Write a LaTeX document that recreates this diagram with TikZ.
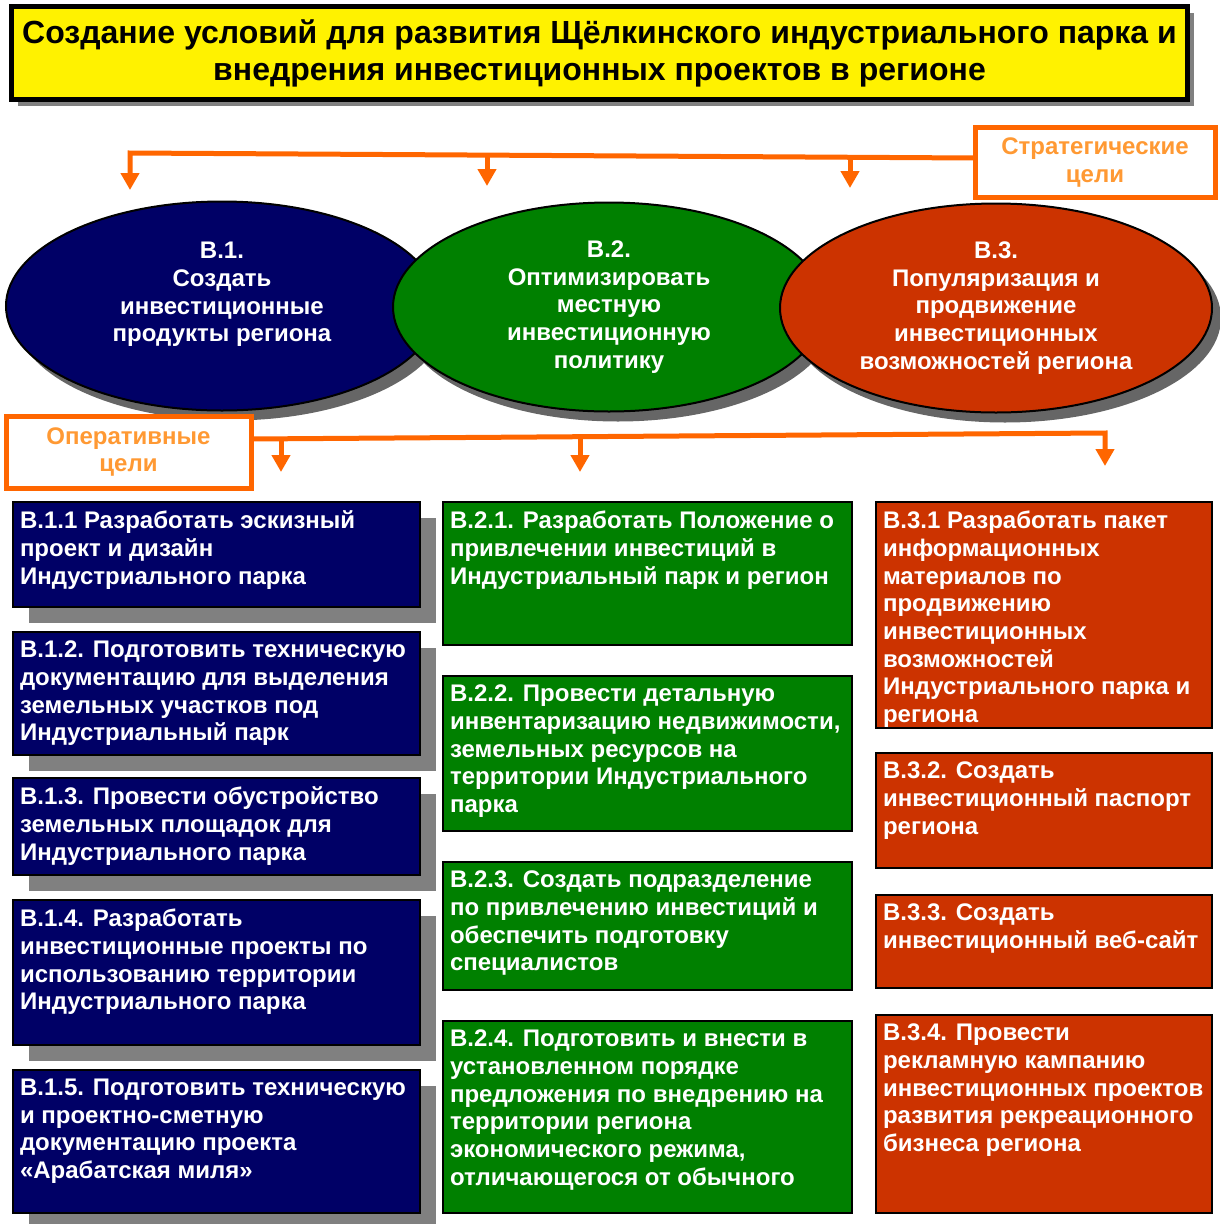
\documentclass[tikz,border=0pt]{standalone}
\usepackage{fontspec}
\setmainfont{Liberation Sans}
\usetikzlibrary{arrows.meta,shapes.geometric,shadows}
\definecolor{navyblue}{HTML}{000066}
\definecolor{parkgreen}{HTML}{008000}
\definecolor{brickred}{HTML}{CC3300}
\definecolor{lineorange}{HTML}{FF6600}
\definecolor{textorange}{HTML}{FF9933}
\newcommand{\taskpar}[3]{\parbox[t][#2][t]{#1}{\raggedright #3}}
\begin{document}
\begin{tikzpicture}[x=1pt,y=-1pt,>={Triangle[length=17pt,width=18pt]},
  font=\bfseries\fontsize{24}{27.7}\selectfont,
  link/.style={lineorange,line width=5pt},
  tag/.style={draw=lineorange,line width=5pt,fill=white,text=textorange,align=center,minimum width=240pt,minimum height=70pt,inner sep=0pt,outer sep=0pt},
  goal/.style={ellipse,draw=black,line width=2pt,fill=#1,text=white,align=center,minimum width=432pt,minimum height=209pt,inner sep=0pt,outer sep=0pt,drop shadow={shadow xshift=9pt,shadow yshift=-10pt,fill=black!60,opacity=1}},
  task/.style={draw=black,line width=1.5pt,fill=#1,text=white,anchor=north west,inner xsep=7pt,inner ysep=9pt,outer sep=0pt},
  shadowtask/.style={task=navyblue,drop shadow={shadow xshift=16pt,shadow yshift=-16pt,fill=black!50,opacity=1}}]
\useasboundingbox (0,0) rectangle (1219,1224);
\node[draw=black,line width=5pt,fill=yellow,minimum width=1176pt,minimum height=93pt,align=center,inner sep=0pt,font=\bfseries\fontsize{32}{37}\selectfont,drop shadow={shadow xshift=6pt,shadow yshift=-6pt,fill=black!50,opacity=1}] (title) at (599.5,53) {Создание условий для развития Щёлкинского индустриального парка и\\внедрения инвестиционных проектов в регионе};

\node[goal=navyblue] (g1) at (222,306) {В.1.\\Создать\\инвестиционные\\продукты региона\\\mbox{}};
\node[goal=parkgreen] (g2) at (609,307) {В.2.\\Оптимизировать\\местную\\инвестиционную\\политику};
\node[goal=brickred] (g3) at (996,308) {В.3.\\Популяризация и\\продвижение\\инвестиционных\\возможностей региона};

\node[tag] (strat) at (1095,162.5) {Стратегические\\цели};
\node[tag,minimum width=245pt,minimum height=72pt] (oper) at (128.5,452) {Оперативные\\цели};

\coordinate (s1) at (130,153); \coordinate (e1) at (130,190);
\coordinate (s2) at (487,155); \coordinate (e2) at (487,186);
\coordinate (s3) at (850,157); \coordinate (e3) at (850,188);
\draw[link,->] ([yshift=4.5pt]strat.west) -- (s1) -- (e1);
\draw[link,->] (s2) -- (e2);
\draw[link,->] (s3) -- (e3);

\coordinate (o1) at (281,438.5); \coordinate (f1) at (281,472);
\coordinate (o2) at (580,437); \coordinate (f2) at (580,472);
\coordinate (o3) at (1105,433); \coordinate (f3) at (1105,466);
\draw[link,->] ([yshift=13pt]oper.east) -- (o3) -- (f3);
\draw[link,->] (o1) -- (f1);
\draw[link,->] (o2) -- (f2);

\node[shadowtask] (b11) at (13,502) {\taskpar{393pt}{87pt}{В.1.1 Разработать эскизный\\проект и дизайн\\Индустриального парка}};
\node[shadowtask] (b12) at (13,632) {\taskpar{393pt}{105pt}{В.1.2. Подготовить техническую\\документацию для выделения\\земельных участков под\\Индустриальный парк}};
\node[shadowtask] (b13) at (13,778) {\taskpar{393pt}{79pt}{В.1.3. Провести обустройство\\земельных площадок для\\Индустриального парка}};
\node[shadowtask] (b14) at (13,900) {\taskpar{393pt}{127pt}{В.1.4. Разработать\\инвестиционные проекты по\\использованию территории\\Индустриального парка}};
\node[shadowtask] (b15) at (13,1070) {\taskpar{393pt}{125pt}{В.1.5. Подготовить техническую\\и проектно-сметную\\документацию проекта\\«Арабатская миля»}};

\node[task=parkgreen] (b21) at (443,502) {\taskpar{395pt}{125pt}{В.2.1. Разработать Положение о\\привлечении инвестиций в\\Индустриальный парк и регион}};
\node[task=parkgreen] (b22) at (443,676) {\taskpar{395pt}{137pt}{В.2.2. Провести детальную\\инвентаризацию недвижимости,\\земельных ресурсов на\\территории Индустриального\\парка}};
\node[task=parkgreen] (b23) at (443,862) {\taskpar{395pt}{110pt}{В.2.3. Создать подразделение\\по привлечению инвестиций и\\обеспечить подготовку\\специалистов}};
\node[task=parkgreen] (b24) at (443,1021) {\taskpar{395pt}{174pt}{В.2.4. Подготовить и внести в\\установленном порядке\\предложения по внедрению на\\территории региона\\экономического режима,\\отличающегося от обычного}};

\node[task=brickred] (b31) at (876,502) {\taskpar{322pt}{208pt}{В.3.1 Разработать пакет\\информационных\\материалов по\\продвижению\\инвестиционных\\возможностей\\Индустриального парка и\\региона}};
\node[task=brickred] (b32) at (876,753) {\taskpar{322pt}{97pt}{В.3.2. Создать\\инвестиционный паспорт\\региона}};
\node[task=brickred] (b33) at (876,895) {\taskpar{322pt}{75pt}{В.3.3. Создать\\инвестиционный веб-сайт}};
\node[task=brickred] (b34) at (876,1015) {\taskpar{322pt}{180pt}{В.3.4. Провести\\рекламную кампанию\\инвестиционных проектов\\развития рекреационного\\бизнеса региона}};
\end{tikzpicture}
\end{document}
